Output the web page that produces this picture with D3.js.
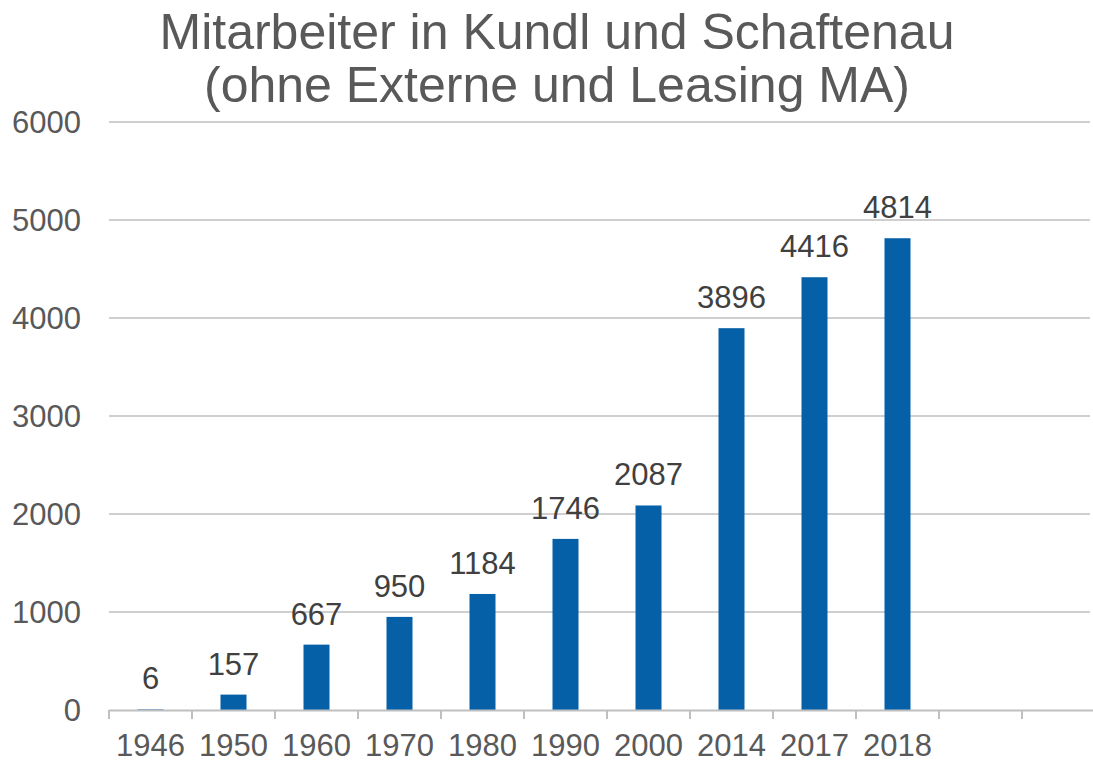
<!DOCTYPE html>
<html><head><meta charset="utf-8">
<script src="https://cdn.jsdelivr.net/npm/d3@7"></script>
<style>html,body{margin:0;padding:0;background:#fff;overflow:hidden}</style>
</head><body>
<svg id="chart" width="1093" height="763"></svg>
<script>
const titleLines = ["Mitarbeiter in Kundl und Schaftenau", "(ohne Externe und Leasing MA)"];
const categories = ["1946","1950","1960","1970","1980","1990","2000","2014","2017","2018","",""];
const slots = ["1946","1950","1960","1970","1980","1990","2000","2014","2017","2018","e1","e2"];
const values = [6,157,667,950,1184,1746,2087,3896,4416,4814];
const yTicks = [0,1000,2000,3000,4000,5000,6000];

const svg = d3.select("#chart");
const font = "'Liberation Sans', Arial, sans-serif";
const x = d3.scaleBand().domain(slots).range([109, 1105]).paddingInner(0).paddingOuter(0);
const y = d3.scaleLinear().domain([0,6000]).range([710,122]);

// gridlines
svg.append("g").selectAll("line").data(yTicks.filter(d=>d>0)).join("line")
  .attr("x1",109).attr("x2",1090).attr("y1",d=>y(d)).attr("y2",d=>y(d))
  .attr("stroke","#cfcfcf").attr("stroke-width",2);

// y labels
svg.append("g").selectAll("text").data(yTicks).join("text")
  .attr("x",81).attr("y",d=>y(d)).attr("dy","0.36em").attr("text-anchor","end")
  .attr("font-family",font).attr("font-size",31).attr("fill","#595959").text(d=>d);

// bars
const bw = 26;
svg.append("g").selectAll("rect").data(values).join("rect")
  .attr("x",(d,i)=>x(slots[i])+x.bandwidth()/2-bw/2).attr("width",bw)
  .attr("y",d=>y(d)).attr("height",d=>y(0)-y(d))
  .attr("fill","#0560A8");

// value labels
svg.append("g").selectAll("text").data(values).join("text")
  .attr("x",(d,i)=>x(slots[i])+x.bandwidth()/2).attr("y",d=>y(d)-20)
  .attr("text-anchor","middle").attr("font-family",font).attr("font-size",31)
  .attr("fill","#404040").text(d=>d);

// x axis line and ticks
svg.append("line").attr("x1",109).attr("x2",1093).attr("y1",710.5).attr("y2",710.5)
  .attr("stroke","#bfbfbf").attr("stroke-width",2);
const bounds = slots.map(s=>x(s)).filter(v=>v<1093);
svg.append("g").selectAll("line").data(bounds).join("line")
  .attr("x1",d=>d).attr("x2",d=>d).attr("y1",710).attr("y2",719)
  .attr("stroke","#bfbfbf").attr("stroke-width",2);

// x labels
svg.append("g").selectAll("text").data(categories).join("text")
  .attr("x",(d,i)=>x(slots[i])+x.bandwidth()/2).attr("y",756)
  .attr("text-anchor","middle").attr("font-family",font).attr("font-size",31)
  .attr("fill","#595959").text(d=>d);

// title
svg.append("g").selectAll("text").data(titleLines).join("text")
  .attr("x",557).attr("y",(d,i)=>49+i*53).attr("text-anchor","middle")
  .attr("font-family",font).attr("font-size",50).attr("fill","#595959").text(d=>d);
</script>
</body></html>
